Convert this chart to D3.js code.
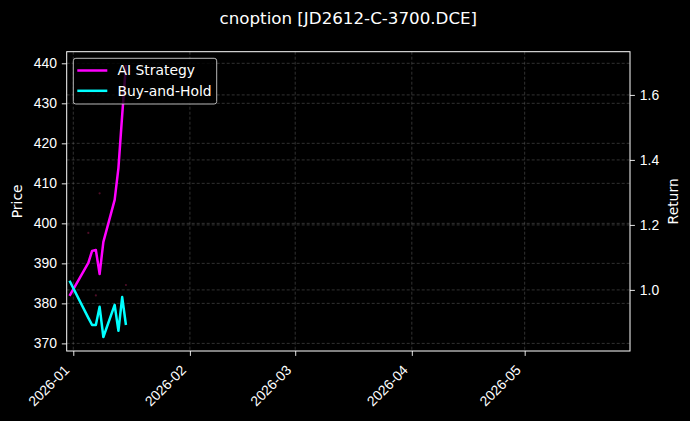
<!DOCTYPE html>
<html>
<head>
<meta charset="utf-8">
<script src="https://cdn.jsdelivr.net/npm/d3@7"></script>
<style>
  html, body { margin: 0; padding: 0; background: #000; }
  svg { display: block; font-family: "DejaVu Sans", sans-serif; }
</style>
</head>
<body>
<div id="chart"></div>
<script>
// ─── 1. DATA ──────────────────────────────────────────────────────────────────

const TITLE = "cnoption [JD2612-C-3700.DCE]";

const dates = [
  "2025-12-31", "2026-01-05", "2026-01-06", "2026-01-07", "2026-01-08",
  "2026-01-09", "2026-01-12", "2026-01-13", "2026-01-14", "2026-01-15"
];
const aiStrategy = [0.982, 1.083, 1.120, 1.123, 1.049, 1.148, 1.277, 1.375, 1.538, 1.692];
const buyAndHold = [1.028, 0.914, 0.892, 0.892, 0.948, 0.855, 0.954, 0.874, 0.978, 0.892];

// faint trade markers on the price axis
const markerDates  = ["2026-01-05", "2026-01-07", "2026-01-08", "2026-01-15"];
const markerPrices = [397.6, 382.0, 407.5, 384.6];

const priceTicks  = [370, 380, 390, 400, 410, 420, 430, 440];
const returnTicks = [1.0, 1.2, 1.4, 1.6];
const monthTicks  = ["2026-01-01", "2026-02-01", "2026-03-01", "2026-04-01", "2026-05-01"];

const priceDomain  = [368.1, 442.9];
const returnDomain = [0.812, 1.733];
const dateDomain   = ["2025-12-30T06:00", "2026-05-29T00:00"];

const SERIES = [
  { label: "AI Strategy",  values: aiStrategy, color: "#ff00ff" },
  { label: "Buy-and-Hold", values: buyAndHold, color: "#00ffff" },
];

// ─── 2. LAYOUT ────────────────────────────────────────────────────────────────

const W = 690, H = 421;
const plot = { left: 66.7, right: 630, top: 51.7, bottom: 351 };
const FONT = 13.9;
const parse = d3.timeParse("%Y-%m-%d");
const parseT = d3.timeParse("%Y-%m-%dT%H:%M");

const svg = d3.select("#chart").append("svg")
  .attr("width", W).attr("height", H);

svg.append("rect").attr("width", W).attr("height", H).attr("fill", "#000");

const x = d3.scaleTime()
  .domain(dateDomain.map(parseT))
  .range([plot.left, plot.right]);
const yPrice = d3.scaleLinear().domain(priceDomain).range([plot.bottom, plot.top]);
const yRet   = d3.scaleLinear().domain(returnDomain).range([plot.bottom, plot.top]);

// ─── 3. GRID ──────────────────────────────────────────────────────────────────

const grid = svg.append("g")
  .attr("stroke", "#7a7a7a")
  .attr("stroke-opacity", 0.5)
  .attr("stroke-width", 0.8)
  .attr("stroke-dasharray", "3,2");

grid.selectAll(".gx").data(monthTicks.map(parse)).enter().append("line")
  .attr("x1", d => x(d)).attr("x2", d => x(d))
  .attr("y1", plot.top).attr("y2", plot.bottom);
grid.selectAll(".gp").data(priceTicks).enter().append("line")
  .attr("x1", plot.left).attr("x2", plot.right)
  .attr("y1", d => yPrice(d)).attr("y2", d => yPrice(d));
grid.selectAll(".gr").data(returnTicks).enter().append("line")
  .attr("x1", plot.left).attr("x2", plot.right)
  .attr("y1", d => yRet(d)).attr("y2", d => yRet(d));

// ─── 4. MARKS ─────────────────────────────────────────────────────────────────

svg.append("defs").append("clipPath").attr("id", "clip")
  .append("rect")
  .attr("x", plot.left).attr("y", plot.top)
  .attr("width", plot.right - plot.left).attr("height", plot.bottom - plot.top);

const marks = svg.append("g").attr("clip-path", "url(#clip)");

marks.selectAll(".marker")
  .data(markerDates.map((d, i) => ({ date: parse(d), price: markerPrices[i] })))
  .enter().append("circle")
  .attr("cx", d => x(d.date))
  .attr("cy", d => yPrice(d.price))
  .attr("r", 1.1)
  .attr("fill", "#ff2a80")
  .attr("opacity", 0.3);

const line = d3.line()
  .x(d => x(d.date))
  .y(d => yRet(d.value));

SERIES.forEach(s => {
  const pts = dates.map((d, i) => ({ date: parse(d), value: s.values[i] }));
  marks.append("path")
    .datum(pts)
    .attr("d", line)
    .attr("fill", "none")
    .attr("stroke", s.color)
    .attr("stroke-width", 2.5)
    .attr("stroke-linejoin", "round");
});

// ─── 5. AXES ──────────────────────────────────────────────────────────────────

function styleAxis(g) {
  g.select(".domain").remove();
  g.selectAll(".tick line").attr("stroke", "#fff").attr("stroke-width", 0.9);
  g.selectAll(".tick text").attr("fill", "#fff").style("font-size", FONT + "px");
}

svg.append("g")
  .attr("transform", `translate(${plot.left},0)`)
  .call(d3.axisLeft(yPrice).tickValues(priceTicks).tickSize(4.9).tickPadding(4.9).tickFormat(d3.format("d")))
  .call(styleAxis);

svg.append("g")
  .attr("transform", `translate(${plot.right},0)`)
  .call(d3.axisRight(yRet).tickValues(returnTicks).tickSize(4.9).tickPadding(4.9).tickFormat(d3.format(".1f")))
  .call(styleAxis);

const xAxis = svg.append("g")
  .attr("transform", `translate(0,${plot.bottom})`)
  .call(d3.axisBottom(x).tickValues(monthTicks.map(parse)).tickSize(4.9).tickFormat(d3.timeFormat("%Y-%m")))
  .call(styleAxis);

xAxis.selectAll(".tick text")
  .attr("text-anchor", "end")
  .attr("dy", null)
  .attr("y", null)
  .attr("transform", "translate(-3.5,20) rotate(-45)");

// frame
svg.append("rect")
  .attr("x", plot.left).attr("y", plot.top)
  .attr("width", plot.right - plot.left).attr("height", plot.bottom - plot.top)
  .attr("fill", "none").attr("stroke", "#fff").attr("stroke-width", 1);

// axis labels + title
svg.append("text")
  .attr("transform", `translate(22,${(plot.top + plot.bottom) / 2}) rotate(-90)`)
  .attr("text-anchor", "middle").attr("fill", "#fff")
  .style("font-size", FONT + "px")
  .text("Price");

svg.append("text")
  .attr("transform", `translate(678,${(plot.top + plot.bottom) / 2}) rotate(-90)`)
  .attr("text-anchor", "middle").attr("fill", "#fff")
  .style("font-size", FONT + "px")
  .text("Return");

svg.append("text")
  .attr("x", (plot.left + plot.right) / 2).attr("y", 24)
  .attr("text-anchor", "middle").attr("fill", "#fff")
  .style("font-size", "16.7px")
  .text(TITLE);

// ─── 6. LEGEND ────────────────────────────────────────────────────────────────

const legend = svg.append("g").attr("transform", "translate(73.3,58.3)");

legend.append("rect")
  .attr("width", 143.4).attr("height", 45.7)
  .attr("rx", 2.5)
  .attr("fill", "#000").attr("fill-opacity", 0.8)
  .attr("stroke", "#cccccc").attr("stroke-width", 0.9);

const item = legend.selectAll(".item").data(SERIES).enter().append("g")
  .attr("transform", (d, i) => `translate(0,${12.2 + i * 20.3})`);

item.append("line")
  .attr("x1", 4).attr("x2", 34)
  .attr("stroke", d => d.color).attr("stroke-width", 2.5);

item.append("text")
  .attr("x", 44.2).attr("y", 4.8)
  .attr("fill", "#fff")
  .style("font-size", FONT + "px")
  .text(d => d.label);
</script>
</body>
</html>
